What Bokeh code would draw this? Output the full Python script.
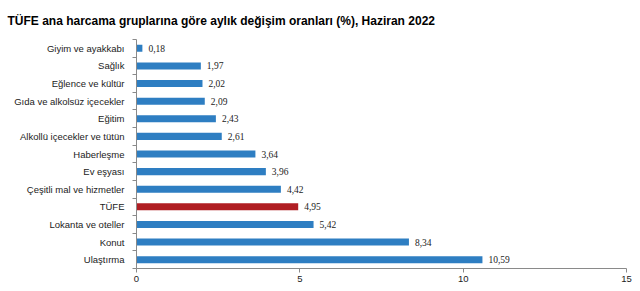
from bokeh.plotting import figure
from bokeh.models import ColumnDataSource, FixedTicker, Range1d, LabelSet
from bokeh.embed import file_html
from bokeh.resources import INLINE

categories = ["Giyim ve ayakkabı", "Sağlık", "Eğlence ve kültür", "Gıda ve alkolsüz içecekler",
              "Eğitim", "Alkollü içecekler ve tütün", "Haberleşme", "Ev eşyası",
              "Çeşitli mal ve hizmetler", "TÜFE", "Lokanta ve oteller", "Konut", "Ulaştırma"]
values = [0.18, 1.97, 2.02, 2.09, 2.43, 2.61, 3.64, 3.96, 4.42, 4.95, 5.42, 8.34, 10.59]
x_ticks = [0, 5, 10, 15]

n = len(categories)
ypos = [n - 1 - i for i in range(n)]
colors = ["#B01E23" if c == "TÜFE" else "#2E7EC2" for c in categories]
labels = [f"{v:.2f}".replace(".", ",") for v in values]

src = ColumnDataSource(dict(y=ypos, v=values, c=colors, lab=labels))

p = figure(width=640, height=291, output_backend="svg", toolbar_location=None,
           x_range=Range1d(0, 15), y_range=Range1d(-0.5, n - 0.5),
           min_border_left=136, min_border_right=14, min_border_top=7, min_border_bottom=23)
p.title.text = "TÜFE ana harcama gruplarına göre aylık değişim oranları (%), Haziran 2022"
p.title.text_font = "Liberation Sans"
p.title.text_font_size = "12px"
p.title.text_font_style = "bold"
p.title.text_color = "#000000"
p.title.offset = -129
p.title.standoff = 23

p.hbar(y="y", right="v", left=0, height=0.4, color="c", source=src, line_color=None)

p.add_layout(LabelSet(x="v", y="y", text="lab", source=src, x_offset=6, y_offset=0,
                      text_baseline="middle", text_font="Liberation Sans",
                      text_font_size="9.5px", text_color="#222222"))

p.xgrid.visible = False
p.ygrid.visible = False
p.outline_line_color = None

p.xaxis.ticker = FixedTicker(ticks=x_ticks)
p.xaxis.axis_line_color = "#8a8a8a"
p.xaxis.major_tick_line_color = "#8a8a8a"
p.xaxis.major_tick_out = 4
p.xaxis.major_tick_in = 0
p.xaxis.minor_tick_line_color = None
p.xaxis.major_label_text_font = "Liberation Sans"
p.xaxis.major_label_text_font_size = "9.5px"
p.xaxis.major_label_text_color = "#222222"
p.xaxis.major_label_standoff = 3

p.yaxis.ticker = FixedTicker(ticks=ypos, minor_ticks=[k - 0.5 for k in range(n + 1)])
p.yaxis.major_label_overrides = {y: c for y, c in zip(ypos, categories)}
p.yaxis.axis_line_color = "#8a8a8a"
p.yaxis.major_tick_line_color = None
p.yaxis.minor_tick_line_color = "#8a8a8a"
p.yaxis.minor_tick_out = 4
p.yaxis.minor_tick_in = 0
p.yaxis.major_label_text_font = "Liberation Sans"
p.yaxis.major_label_text_font_size = "9.5px"
p.yaxis.major_label_text_color = "#222222"
p.yaxis.major_label_standoff = 6

open("out.html", "w").write(file_html(p, INLINE))
